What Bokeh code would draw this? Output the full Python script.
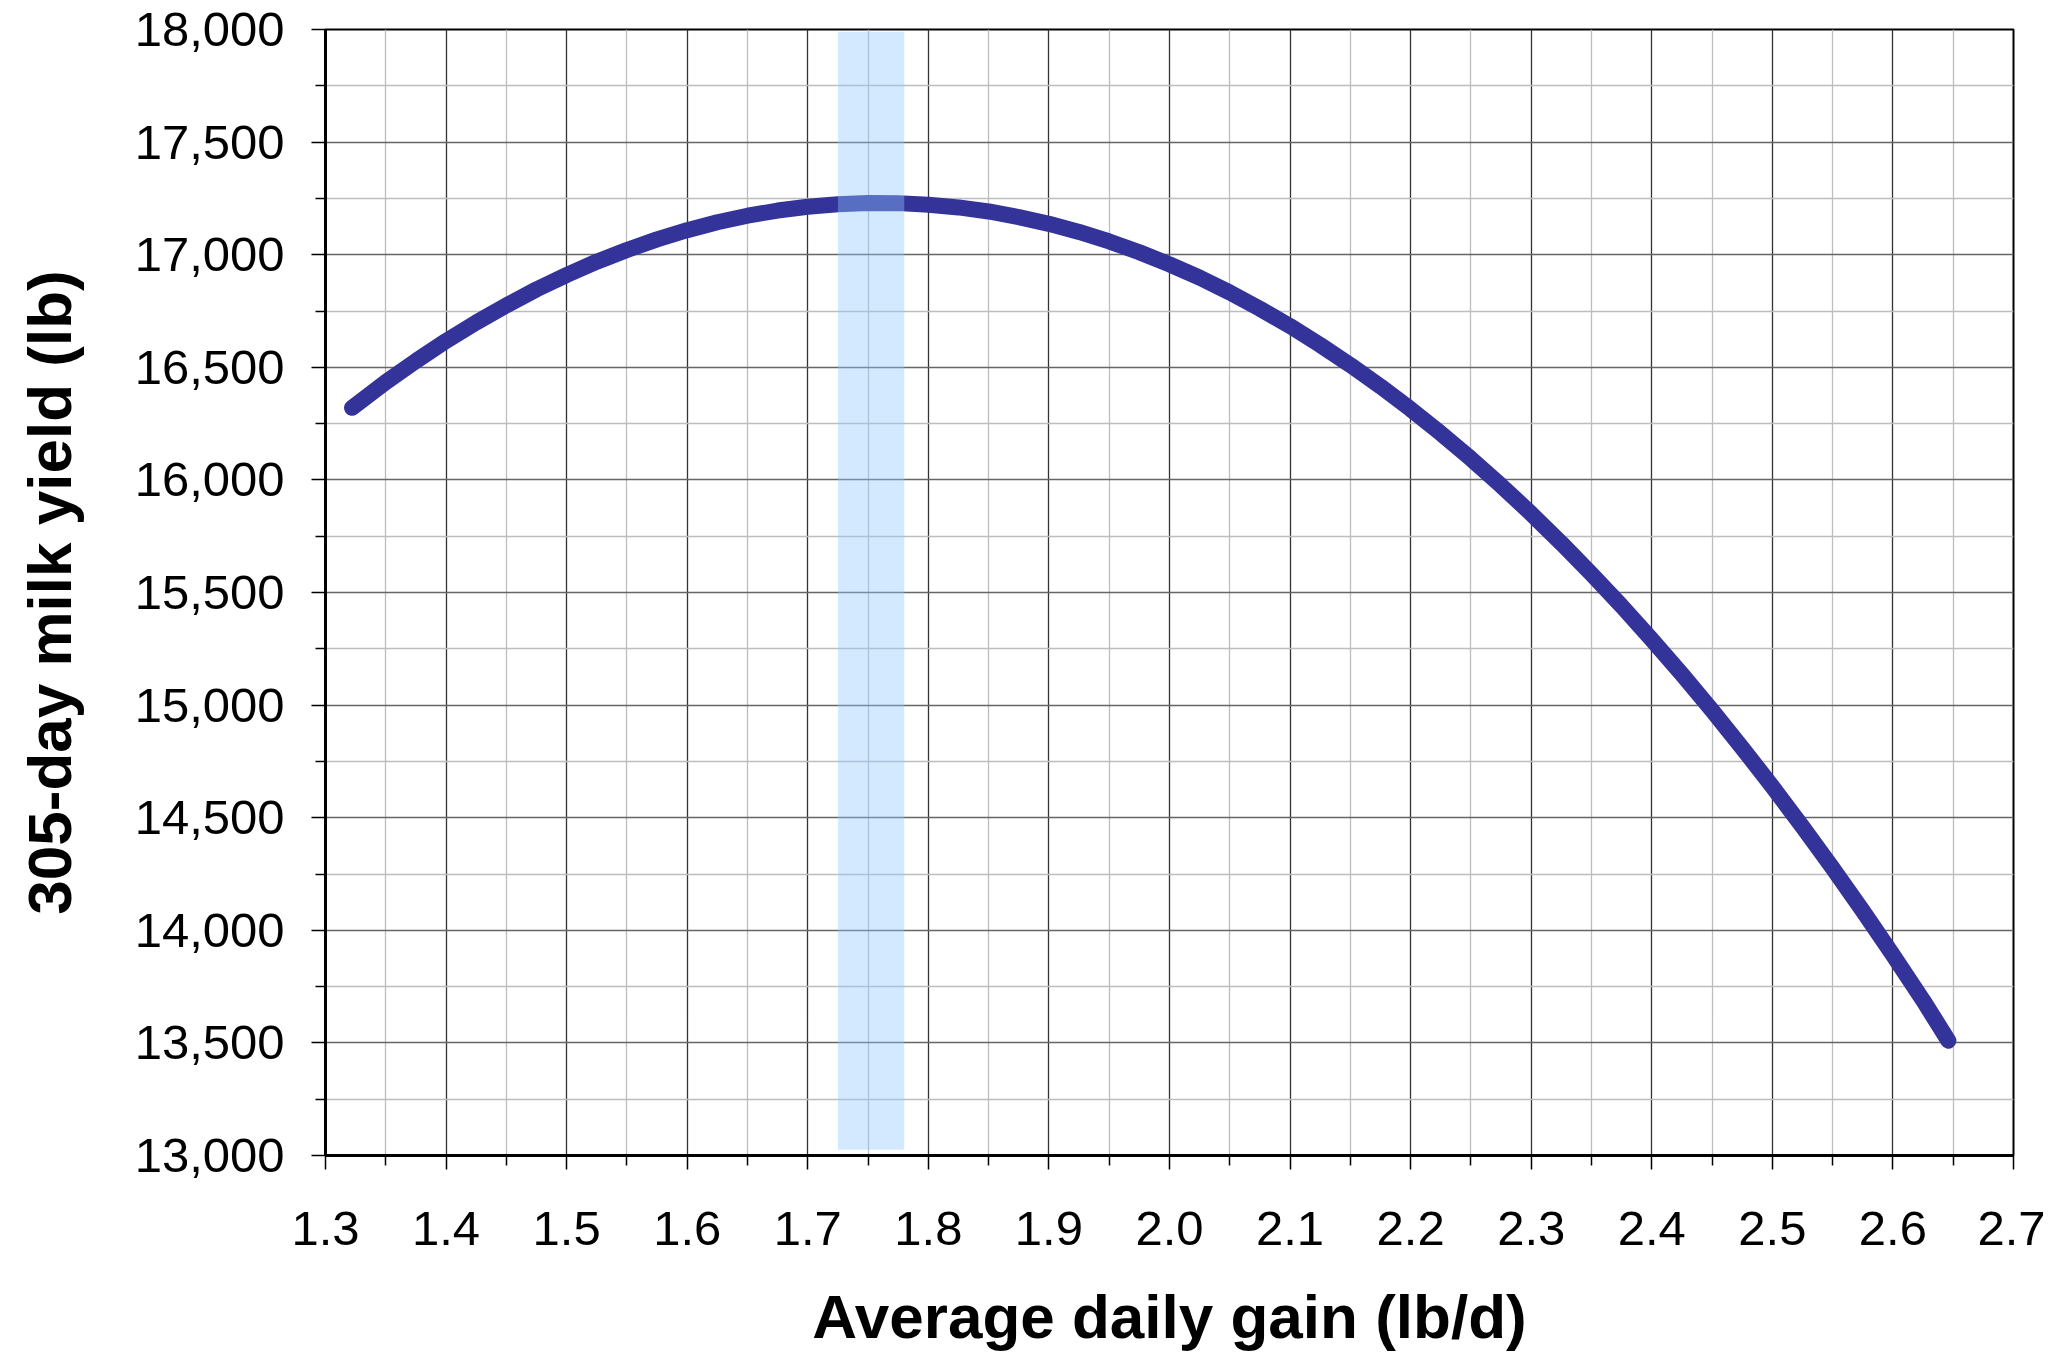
from bokeh.plotting import figure
from bokeh.models import FixedTicker, NumeralTickFormatter, Range1d
from bokeh.embed import file_html
from bokeh.resources import INLINE

# ---- data ----
adg = [1.322, 1.35, 1.375, 1.40, 1.425, 1.45, 1.475, 1.50, 1.525, 1.55, 1.575,
       1.60, 1.625, 1.65, 1.675, 1.70, 1.725, 1.75, 1.775, 1.80, 1.825,
       1.85, 1.875, 1.90, 1.925, 1.95, 1.975, 2.00, 2.025, 2.05, 2.075,
       2.10, 2.125, 2.15, 2.175, 2.20, 2.225, 2.25, 2.275, 2.30, 2.325,
       2.35, 2.375, 2.40, 2.425, 2.45, 2.475, 2.50, 2.525, 2.55, 2.575,
       2.60, 2.625, 2.646]
milk = [16320, 16434, 16528, 16617, 16699, 16775, 16846, 16910, 16969, 17021, 17068,
        17109, 17144, 17173, 17196, 17213, 17224, 17230, 17229, 17222, 17210,
        17192, 17167, 17137, 17101, 17059, 17011, 16957, 16898, 16832, 16760,
        16683, 16599, 16510, 16415, 16314, 16207, 16094, 15975, 15850, 15719,
        15582, 15440, 15291, 15137, 14977, 14810, 14638, 14460, 14276, 14086,
        13890, 13689, 13510]

band_x = [1.725, 1.78]
band_y = [13025, 17990]

x_ticks = [1.3, 1.4, 1.5, 1.6, 1.7, 1.8, 1.9, 2.0, 2.1, 2.2, 2.3, 2.4, 2.5, 2.6, 2.7]
x_minor = [1.35, 1.45, 1.55, 1.65, 1.75, 1.85, 1.95, 2.05, 2.15, 2.25, 2.35, 2.45, 2.55, 2.65]
y_ticks = [13000, 13500, 14000, 14500, 15000, 15500, 16000, 16500, 17000, 17500, 18000]
y_minor = [13250, 13750, 14250, 14750, 15250, 15750, 16250, 16750, 17250, 17750]

x_title = "Average daily gain (lb/d)"
y_title = "305-day milk yield (lb)"

p = figure(width=2045, height=1353,
           x_range=Range1d(1.3, 2.7), y_range=Range1d(13000, 18000),
           output_backend="svg", toolbar_location=None,
           min_border_left=325, min_border_right=32,
           min_border_top=29, min_border_bottom=198)

p.background_fill_color = "white"
p.border_fill_color = "white"
p.outline_line_color = "black"
p.outline_line_width = 2

# curve
p.line(adg, milk, line_color="#333399", line_width=16, line_cap="round", line_join="round")

# highlighted band (drawn over the curve, semi-transparent)
p.quad(left=band_x[0], right=band_x[1], bottom=band_y[0], top=band_y[1],
       fill_color="#90c9ff", fill_alpha=0.4, line_color=None)

# axes
p.xaxis.ticker = FixedTicker(ticks=x_ticks, minor_ticks=x_minor)
p.yaxis.ticker = FixedTicker(ticks=y_ticks, minor_ticks=y_minor)
p.xaxis.formatter = NumeralTickFormatter(format="0.0")
p.yaxis.formatter = NumeralTickFormatter(format="0,0")

for ax in (p.xaxis, p.yaxis):
    ax.axis_line_color = "black"
    ax.axis_line_width = 3
    ax.major_tick_in = 0
    ax.major_tick_out = 14
    ax.minor_tick_in = 0
    ax.minor_tick_out = 10
    ax.major_tick_line_color = "black"
    ax.major_tick_line_width = 1.5
    ax.minor_tick_line_color = "black"
    ax.minor_tick_line_width = 1.5
    ax.major_label_text_font = "Liberation Sans"
    ax.major_label_text_font_size = "49px"
    ax.major_label_text_color = "black"
    ax.axis_label_text_font = "Liberation Sans"
    ax.axis_label_text_font_size = "62px"
    ax.axis_label_text_font_style = "bold"
    ax.axis_label_text_color = "black"

p.yaxis.major_label_standoff = 27
p.xaxis.major_label_standoff = 42
p.yaxis.axis_label = y_title
p.yaxis.axis_label_standoff = 48
p.xaxis.axis_label = x_title
p.xaxis.axis_label_standoff = 34

# grid
p.xgrid.grid_line_color = "#333333"
p.xgrid.grid_line_width = 1.3
p.xgrid.minor_grid_line_color = "#bdbdbd"
p.xgrid.minor_grid_line_width = 1.3
p.ygrid.grid_line_color = "#666666"
p.ygrid.grid_line_width = 1.5
p.ygrid.minor_grid_line_color = "#bdbdbd"
p.ygrid.minor_grid_line_width = 1.5

open("out.html", "w").write(file_html(p, INLINE))
